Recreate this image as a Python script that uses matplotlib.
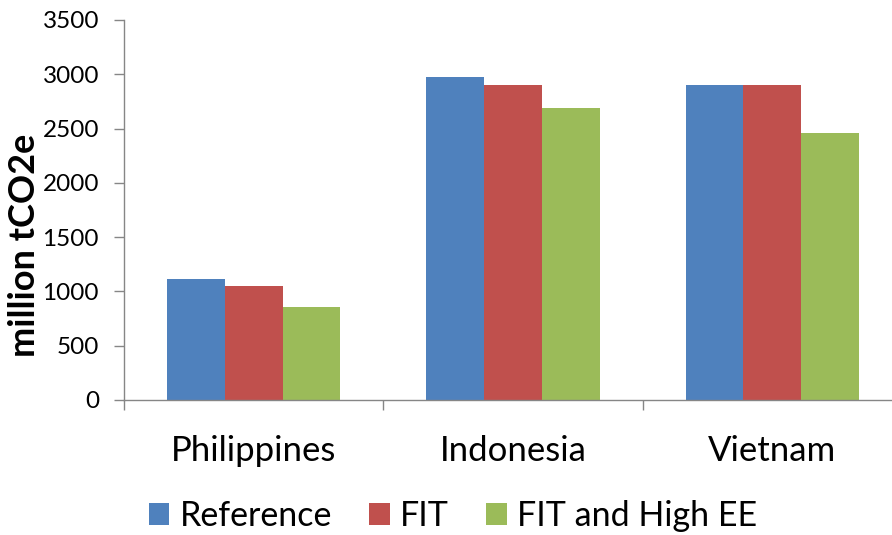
import matplotlib.pyplot as plt
import numpy as np
from matplotlib.patches import Patch

countries = ['Philippines', 'Indonesia', 'Vietnam']
reference = [1110, 2975, 2905]
fit = [1050, 2905, 2905]
fit_high_ee = [855, 2690, 2460]

series_names = ['Reference', 'FIT', 'FIT and High EE']
colors = ['#4F81BD', '#C0504D', '#9BBB59']
axis_grey = '#868686'

plt.rcParams['font.family'] = ['Lato', 'DejaVu Sans']

W, H = 892, 535
fig = plt.figure(figsize=(W / 100, H / 100), dpi=100)
# plot area: left spine at x=124px, floor at y=400px, top at y=20px
ax = fig.add_axes([124 / W, (H - 400) / H, 778 / W, 380 / H])

x = np.arange(len(countries))
bw = 0.223
for i, vals in enumerate([reference, fit, fit_high_ee]):
    ax.bar(x + (i - 1) * bw, vals, width=bw, color=colors[i], linewidth=0)

ax.set_xlim(-0.5, 2.5)
ax.set_ylim(0, 3500)
ax.set_yticks(np.arange(0, 3501, 500))
ax.tick_params(axis='y', labelsize=17.5, length=7, width=1, color=axis_grey, pad=11)

ax.set_xticks(x)
ax.set_xticklabels(countries, fontsize=25)
ax.tick_params(axis='x', which='major', length=0, pad=25)
ax.set_xticks([-0.5, 0.5, 1.5, 2.5], minor=True)
ax.tick_params(axis='x', which='minor', length=7, width=1, color=axis_grey)

for side in ['top', 'right']:
    ax.spines[side].set_visible(False)
for side in ['left', 'bottom']:
    ax.spines[side].set_color(axis_grey)
    ax.spines[side].set_linewidth(1)

fig.text(25 / W, 1 - 245 / H, 'million tCO2e', rotation=90, fontsize=26,
         fontweight='bold', ha='center', va='center')

handles = [Patch(facecolor=c, edgecolor='none') for c in colors]
fig.legend(handles, series_names, loc='center', bbox_to_anchor=(453 / W, 1 - 516 / H),
           ncol=3, frameon=False, fontsize=24.5, handlelength=0.6, handleheight=0.6,
           handletextpad=0.3, columnspacing=1.1, borderpad=0, borderaxespad=0)

fig.savefig('out.png', dpi=100)
